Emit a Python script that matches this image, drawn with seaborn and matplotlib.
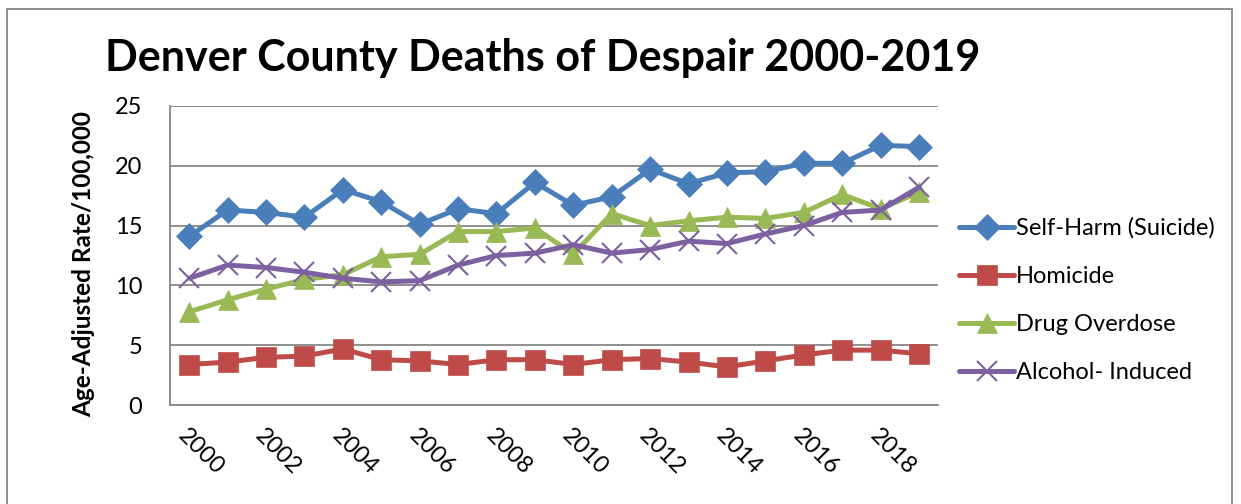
import matplotlib
matplotlib.use("Agg")
import matplotlib.pyplot as plt
import seaborn as sns
import pandas as pd

years = list(range(2000, 2020))
suicide = [14.1, 16.3, 16.1, 15.7, 18.0, 17.0, 15.1, 16.4, 16.0, 18.6,
           16.7, 17.4, 19.7, 18.5, 19.4, 19.5, 20.2, 20.2, 21.7, 21.6]
homicide = [3.4, 3.6, 4.0, 4.1, 4.7, 3.8, 3.7, 3.4, 3.8, 3.8,
            3.4, 3.8, 3.9, 3.6, 3.2, 3.7, 4.2, 4.6, 4.6, 4.3]
drug = [7.8, 8.8, 9.7, 10.5, 10.9, 12.4, 12.6, 14.5, 14.5, 14.8,
        12.6, 16.0, 15.0, 15.4, 15.7, 15.6, 16.1, 17.6, 16.4, 17.8]
alcohol = [10.6, 11.7, 11.5, 11.1, 10.6, 10.3, 10.4, 11.7, 12.5, 12.7,
           13.4, 12.7, 13.0, 13.7, 13.5, 14.3, 15.0, 16.1, 16.3, 18.2]
series_names = ["Self-Harm (Suicide)", "Homicide", "Drug Overdose", "Alcohol- Induced"]
colors = ["#4A7EBB", "#BE4B48", "#98B954", "#7D60A0"]
markers = ["D", "s", "^", "x"]
msizes = [13, 14, 14, 14]

sns.set_theme(style="white")
plt.rcParams['font.family'] = ['Lato', 'DejaVu Sans']
plt.rcParams['text.color'] = 'black'

df = pd.DataFrame({
    "Year": years * 4,
    "Rate": suicide + homicide + drug + alcohol,
    "Series": sum([[n] * len(years) for n in series_names], []),
})

fig = plt.figure(figsize=(12.41, 5.04), dpi=100)
ax = fig.add_axes([0.137, 0.196, 0.619, 0.594])

for name, c, m, ms in zip(series_names, colors, markers, msizes):
    sub = df[df["Series"] == name]
    sns.lineplot(data=sub, x="Year", y="Rate", ax=ax, color=c, marker=m,
                 markersize=ms, linewidth=3.6, label=name,
                 markeredgecolor=c, markeredgewidth=1.5 if m == "x" else 0.5,
                 zorder=3)

ax.set_xlim(1999.5, 2019.5)
ax.set_ylim(0, 25)
ax.set_yticks([0, 5, 10, 15, 20, 25])
ax.set_xticks(list(range(2000, 2020, 2)))
ax.set_xticklabels([str(y) for y in range(2000, 2020, 2)], rotation=-45,
                   ha="left", va="top", rotation_mode="anchor")
ax.tick_params(axis="both", labelsize=17, length=0, colors="black")
ax.tick_params(axis="x", pad=14)
ax.tick_params(axis="y", pad=20)
ax.yaxis.grid(True, color="#868686", linewidth=1.3)
ax.xaxis.grid(False)
for s in ["top", "right"]:
    ax.spines[s].set_visible(False)
for s in ["left", "bottom"]:
    ax.spines[s].set_color("#868686")
    ax.spines[s].set_linewidth(1.3)
ax.set_xlabel("")
ax.set_ylabel("Age-Adjusted Rate/100,000", fontsize=17.5, fontweight="bold",
              labelpad=8, color="black")
ax.yaxis.set_label_coords(-0.098, 0.47)

leg = ax.legend(loc="center left", bbox_to_anchor=(1.0, 0.35), frameon=False,
                fontsize=17, handlelength=2.3, labelspacing=1.15, handletextpad=0.1)
for t in leg.get_texts():
    t.set_color("black")

fig.text(0.085, 0.885, "Denver County Deaths of Despair 2000-2019", fontsize=31,
         fontweight="bold", ha="left", va="center", color="black")

border = plt.Rectangle((0.006, -0.1), 0.987, 1.083, transform=fig.transFigure,
                       fill=False, edgecolor="#868686", linewidth=1.3)
fig.add_artist(border)

fig.savefig("out.png", dpi=100)
